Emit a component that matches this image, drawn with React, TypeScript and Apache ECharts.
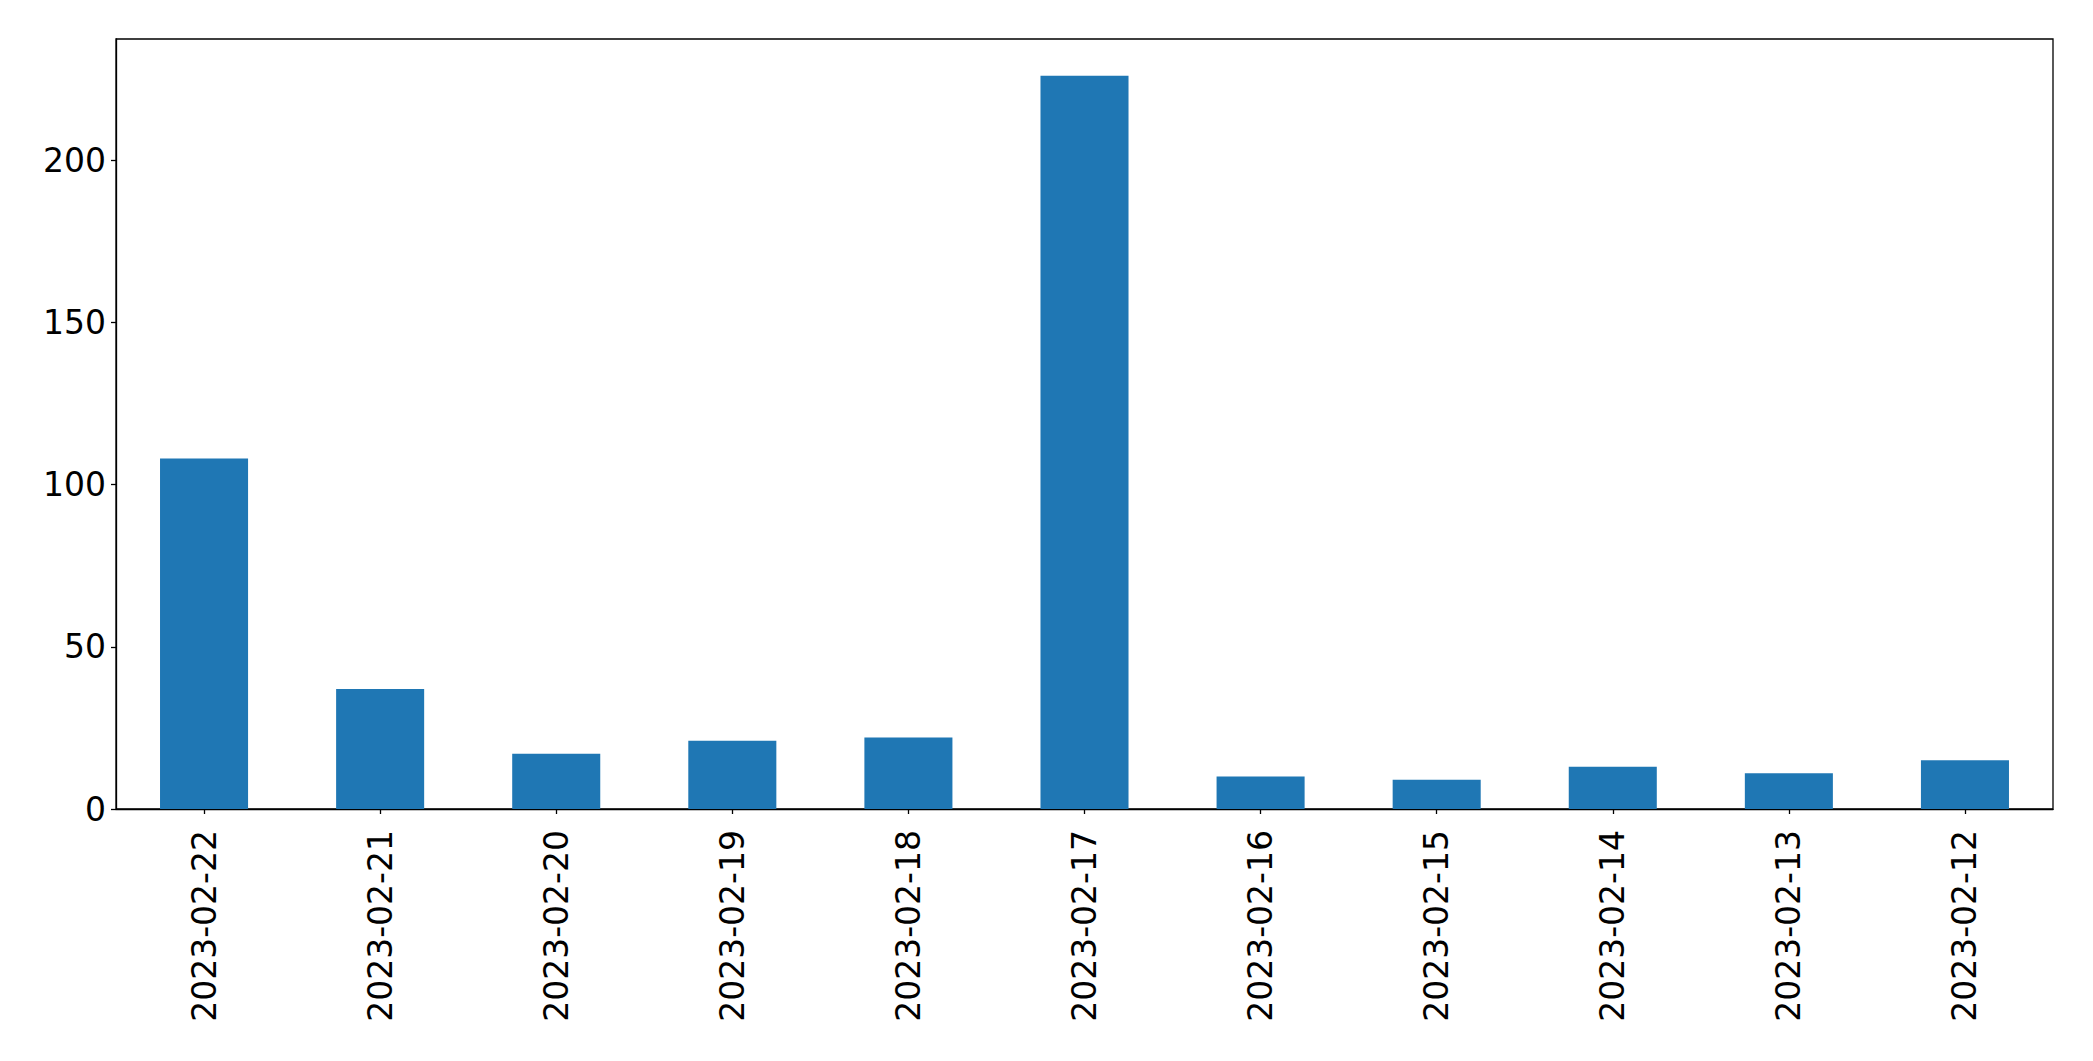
import React, { useEffect, useRef } from "react";
import * as echarts from "echarts";

const categories = [
  "2023-02-22", "2023-02-21", "2023-02-20", "2023-02-19", "2023-02-18", "2023-02-17",
  "2023-02-16", "2023-02-15", "2023-02-14", "2023-02-13", "2023-02-12",
];
const values = [108, 37, 17, 21, 22, 226, 10, 9, 13, 11, 15];
const yTicks = [0, 50, 100, 150, 200];
const yMax = 237.3;

export default function App() {
  const ref = useRef<HTMLDivElement>(null);
  useEffect(() => {
    document.body.style.margin = "0";
    const chart = echarts.init(ref.current!, null, { renderer: "svg" });
    const font = "DejaVu Sans";
    chart.setOption({
      animation: false,
      backgroundColor: "#ffffff",
      grid: {
        left: 116, right: 40, top: 39, bottom: 252,
        show: true, borderColor: "#000000", borderWidth: 1.3, backgroundColor: "transparent",
      },
      xAxis: {
        type: "category",
        data: categories,
        axisLine: { show: true, lineStyle: { color: "#000000", width: 1.3 } },
        axisTick: { show: true, alignWithLabel: true, length: 5, lineStyle: { color: "#000000", width: 1.3 } },
        axisLabel: { rotate: 90, margin: 21, color: "#000000", fontSize: 33, fontFamily: font, interval: 0 },
        splitLine: { show: false },
      },
      yAxis: {
        type: "value",
        min: 0,
        max: yMax,
        interval: 50,
        axisLine: { show: true, lineStyle: { color: "#000000", width: 1.3 } },
        axisTick: { show: true, length: 5, customValues: yTicks, lineStyle: { color: "#000000", width: 1.3 } },
        axisLabel: { margin: 10, color: "#000000", fontSize: 33, fontFamily: font, customValues: yTicks },
        splitLine: { show: false },
      },
      series: [
        {
          type: "bar",
          data: values,
          barWidth: "50%",
          itemStyle: { color: "#1f77b4" },
        },
      ],
    });
    return () => chart.dispose();
  }, []);
  return <div ref={ref} style={{ width: 2093, height: 1061 }} />;
}
